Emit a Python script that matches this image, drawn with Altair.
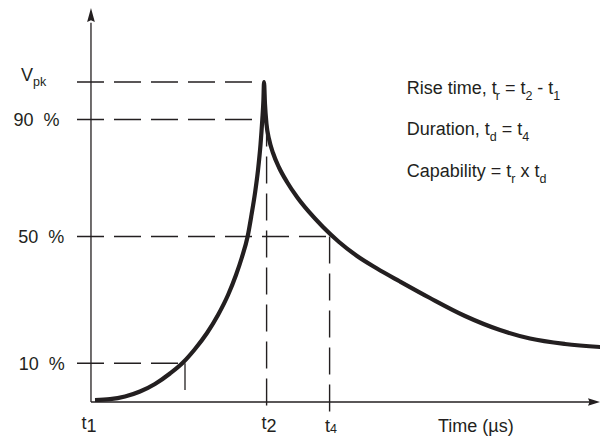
import altair as alt
import pandas as pd

# ---------------- data ----------------
# time in arbitrary units (vertical axis near t = 0), voltage in % of Vpk (x axis = 0)
curve_t = [0.50, 3.00, 5.50, 8.00, 10.50, 13.00, 15.17, 17.17, 19.17, 21.00, 22.67, 24.00, 25.00,
           25.92, 26.58, 27.17, 27.67, 28.08, 28.38, 28.57, 28.67,
           28.83, 29.08, 29.50, 30.17, 31.17, 32.50, 34.17, 36.17, 38.50, 41.17, 44.17, 47.50,
           51.33, 56.33, 62.17, 68.00, 73.00, 78.83, 86.00]
curve_v = [0.63, 0.88, 1.72, 3.28, 5.63, 8.91, 12.34, 16.56, 21.56, 27.19, 33.44, 39.69, 45.31,
           51.56, 58.44, 65.31, 72.50, 80.31, 88.13, 94.38, 100.0,
           93.13, 86.88, 82.19, 77.81, 73.28, 68.75, 64.06, 59.38, 54.69, 50.00, 45.63, 41.72,
           37.66, 32.50, 26.88, 22.50, 19.84, 18.13, 17.03]

level_names = ["Vpk", "90 %", "50 %", "10 %"]
level_v = [100.0, 88.3, 51.7, 12.1]
level_end_t = [26.8, 26.8, 40.0, 15.5]
dash_start_t = -2.5

mark_names = ["t2", "t4"]
mark_t = [29.1, 39.6]
mark_top_v = [88.3, 51.7]
mark_bottom_v = [-4.1, -3.1]

tick10_t = 15.5
tick10_v = [12.1, 3.75]

axis_t = -0.17
x_axis_end_t = 83.0
y_axis_end_v = 118.5

# ---------------- scales / helpers ----------------
INK = "#231f20"
FONT = "Liberation Sans"
X0, X1 = -14.0, 84.6667       # 592 px -> 6 px per unit, t=0 at page x 92
Y0, Y1 = -10.625, 123.125     # 428 px -> 3.2 px per unit, v=0 at page y 402
xs = alt.Scale(domain=[X0, X1], nice=False, zero=False)
ys = alt.Scale(domain=[Y0, Y1], nice=False, zero=False)


def to_t(px):
    return (px - 92.0) / 6.0


def to_v(py):
    return (402.0 - py) / 3.2


W = {' ': 278, '\u00a0': 278, '%': 889, '(': 333, ')': 333, ',': 278, '-': 333, '=': 584,
     'C': 722, 'D': 722, 'R': 667, 'T': 611, 'V': 667, 'a': 556, 'b': 556, 'c': 500,
     'd': 556, 'e': 556, 'i': 222, 'k': 500, 'l': 222, 'm': 833, 'n': 556, 'o': 556,
     'p': 556, 'r': 333, 's': 500, 't': 278, 'u': 556, 'x': 500, 'y': 500}


def tw(s, fs):
    return sum(W.get(c, 556) for c in s) * fs / 1000.0


def seg_rows(parts, x0):
    """parts: list of (text, font size, baseline page-y)"""
    rows = []
    x = x0
    for text, fs, base in parts:
        txt = text.replace(" ", "\u00a0")
        body = txt.lstrip("\u00a0")
        x += tw(txt[:len(txt) - len(body)], fs)
        rows.append(dict(text=body, t=to_t(x), v=to_v(base), size=fs))
        x += tw(body, fs)
    return rows


M, S = 18, 12.5
rows = []
# formula block
rows += seg_rows([("Rise time, t", M, 94), ("r", S, 100), (" = t", M, 94), ("2", S, 100),
                  (" - t", M, 94), ("1", S, 100)], 406.7)
rows += seg_rows([("Duration, t", M, 134.5), ("d", S, 140.5), (" = t", M, 134.5), ("4", S, 140.5)], 406.7)
rows += seg_rows([("Capability = t", M, 177), ("r", S, 183), (" x t", M, 177), ("d", S, 183)], 406.7)
# level labels
rows += seg_rows([("V", M, 81), ("pk", S, 85.5)], 21)
rows += seg_rows([("90  %", M, 126)], 13.5)
rows += seg_rows([("50  %", M, 243)], 18.3)
rows += seg_rows([("10  %", M, 369.5)], 18.7)
# time labels
rows += seg_rows([("t", M, 428.5), ("1", M, 432)], 81.5)
rows += seg_rows([("t", M, 428.5), ("2", M, 432)], 261.5)
rows += seg_rows([("t", M, 431.5), ("4", S, 432.5)], 325)
rows += seg_rows([("Time (µs)", M, 431.5)], 438)
text_df = pd.DataFrame(rows)

curve_df = pd.DataFrame({"t": curve_t, "v": curve_v})
hdash_df = pd.DataFrame({"name": level_names, "v": level_v,
                         "t0": [dash_start_t] * len(level_v), "t1": level_end_t})
vdash_df = pd.DataFrame({"name": mark_names, "t": mark_t, "v0": mark_top_v, "v1": mark_bottom_v})
tick_df = pd.DataFrame({"t": [tick10_t], "v0": [tick10_v[0]], "v1": [tick10_v[1]]})
xaxis_df = pd.DataFrame({"t0": [axis_t], "t1": [x_axis_end_t], "v": [0.0]})
yaxis_df = pd.DataFrame({"t": [axis_t], "v0": [0.0], "v1": [y_axis_end_v]})
up_df = pd.DataFrame({"t": [axis_t], "v": [120.94]})
right_df = pd.DataFrame({"t": [83.67], "v": [0.0]})

X = lambda f: alt.X(f, scale=xs, axis=None)
Y = lambda f: alt.Y(f, scale=ys, axis=None)

hdash = alt.Chart(hdash_df).mark_rule(color=INK, strokeWidth=1.4, strokeDash=[27, 10]).encode(
    x=X("t0:Q"), x2="t1:Q", y=Y("v:Q"))
vdash = alt.Chart(vdash_df).mark_rule(color=INK, strokeWidth=1.4, strokeDash=[27, 10]).encode(
    x=X("t:Q"), y=Y("v0:Q"), y2="v1:Q")
tick = alt.Chart(tick_df).mark_rule(color=INK, strokeWidth=1.3).encode(
    x=X("t:Q"), y=Y("v0:Q"), y2="v1:Q")
xaxis = alt.Chart(xaxis_df).mark_rule(color=INK, strokeWidth=1.3).encode(
    x=X("t0:Q"), x2="t1:Q", y=Y("v:Q"))
yaxis = alt.Chart(yaxis_df).mark_rule(color=INK, strokeWidth=1.3).encode(
    x=X("t:Q"), y=Y("v0:Q"), y2="v1:Q")
up_arrow = alt.Chart(up_df).mark_point(
    shape="M0,-1L0.55,1L0,0.75L-0.55,1Z", filled=True, size=196, color=INK, opacity=1,
    strokeWidth=0).encode(x=X("t:Q"), y=Y("v:Q"))
right_arrow = alt.Chart(right_df).mark_point(
    shape="M1,0L-1,0.62L-0.75,0L-1,-0.62Z", filled=True, size=144, color=INK, opacity=1,
    strokeWidth=0).encode(x=X("t:Q"), y=Y("v:Q"))
curve = alt.Chart(curve_df).mark_line(color=INK, strokeWidth=4.2, interpolate="monotone",
                                      strokeCap="butt", strokeJoin="miter", clip=True).encode(
    x=X("t:Q"), y=Y("v:Q"), order="t:Q")
texts = alt.Chart(text_df).mark_text(align="left", baseline="alphabetic", font=FONT,
                                     color=INK).encode(
    x=X("t:Q"), y=Y("v:Q"), text="text:N", size=alt.Size("size:Q", scale=None, legend=None))

chart = alt.layer(hdash, vdash, tick, xaxis, yaxis, up_arrow, right_arrow, curve, texts).properties(
    width=592, height=428, padding=0, autosize="none", background="white"
).configure_view(stroke=None)

chart.save("out.html", embed_options={"renderer": "svg", "actions": False})
